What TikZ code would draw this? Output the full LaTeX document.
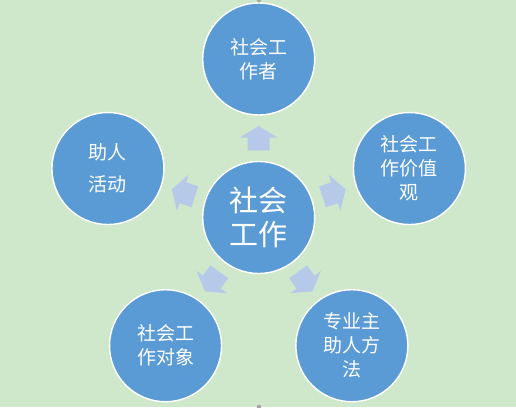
\documentclass[tikz,border=0pt]{standalone}
\usepackage{fontspec}
\newfontfamily\cjk{Noto Sans CJK SC}
\usetikzlibrary{calc}
\definecolor{bg}{RGB}{207,232,204}
\definecolor{circ}{RGB}{91,155,213}
\definecolor{arr}{RGB}{183,201,232}
\begin{document}
\begin{tikzpicture}[x=1pt,y=1pt,
  bubble/.style={circle,fill=circ,draw=white,line width=1.4pt,minimum size=112pt,inner sep=0pt,text=white,align=center,font=\cjk\fontsize{19}{24}\selectfont},
  hubfont/.style={font=\cjk\fontsize{29}{33.6}\selectfont},
  wide/.style={font=\cjk\fontsize{19}{31.7}\selectfont},
  blockarrow/.style={fill=arr}]
\fill[bg] (0,0) rectangle (516,407);
\useasboundingbox (0,0) rectangle (516,407);
\coordinate (c) at (258.7,189.5);
\node[bubble,hubfont] (hub) at (c) {社会\\工作};
\node[bubble] (n1) at ($(c)+(90:158.5)$) {社会工\\作者};
\node[bubble] (n2) at ($(c)+(18:158.5)$) {社会工\\作价值\\观};
\node[bubble] (n3) at ($(c)+(-54:158.5)$) {专业主\\助人方\\法};
\node[bubble] (n4) at ($(c)+(-126:158.5)$) {社会工\\作对象};
\node[bubble,wide] (n5) at ($(c)+(162:158.5)$) {助人\\活动};
\foreach \n/\a in {n1/90,n2/18,n3/-54,n4/-126,n5/162}{
  \begin{scope}[shift={($(hub.center)!0.5!(\n.center)$)},rotate=\a]
    \fill[blockarrow] (-12.15,-11) -- (0.55,-11) -- (0.55,-19) -- (12.15,0) -- (0.55,19) -- (0.55,11) -- (-12.15,11) -- cycle;
  \end{scope}
}
\fill[gray!70] (259,407) circle (2.3);
\fill[gray!70] (259,0) circle (2.3);
\end{tikzpicture}
\end{document}
